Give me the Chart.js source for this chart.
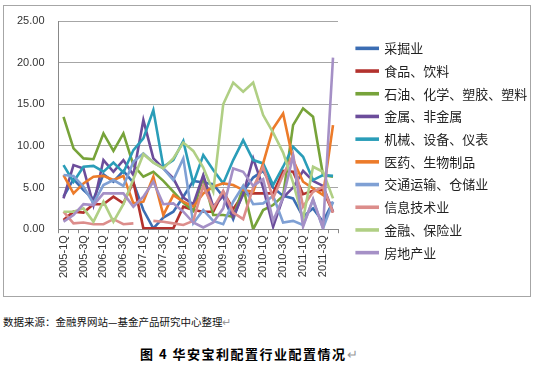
<!DOCTYPE html>
<html>
<head>
<meta charset="utf-8">
<script src="https://cdn.jsdelivr.net/npm/chart.js@4.4.1/dist/chart.umd.min.js"></script>
<style>
  body { margin: 0; background: #fff; width: 535px; height: 368px; position: relative; overflow: hidden; }
  #box { position: absolute; left: 3px; top: 5px; width: 528px; height: 292px; border: 1px solid #a6a6a6; box-sizing: border-box; }
  #box canvas { position: absolute; left: 0; top: 0; }
  .src { position: absolute; left: 3px; top: 314px; font: 10.5px "Noto Sans CJK SC"; color: #111; white-space: nowrap; }
  .ttl { position: absolute; left: 140px; top: 344px; font: bold 13px "Noto Sans CJK SC"; letter-spacing: 1.5px; color: #000; white-space: nowrap; }
  .mk { color: #999; font-weight: normal; }
</style>
</head>
<body>
<div id="box"><canvas id="industry_chart"></canvas></div>
<div class="src">数据来源：金融界网站—基金产品研究中心整理<span class="mk">↵</span></div>
<div class="ttl">图 4 华安宝利配置行业配置情况<span class="mk">↵</span></div>
<script>
var quarters = ['2005-1Q', '2005-2Q', '2005-3Q', '2005-4Q', '2006-1Q', '2006-2Q', '2006-3Q', '2006-4Q',
    '2007-1Q', '2007-2Q', '2007-3Q', '2007-4Q', '2008-1Q', '2008-2Q', '2008-3Q', '2008-4Q',
    '2009-1Q', '2009-2Q', '2009-3Q', '2009-4Q', '2010-1Q', '2010-2Q', '2010-3Q', '2010-4Q',
    '2011-1Q', '2011-2Q', '2011-3Q', '2011-4Q'];

var caijue = [3.9, 6.0, 4.7, 3.6, 6.6, 5.7, 7.0, 5.6, 2.3, 0.1, 1.4, 2.1, 3.9, 5.8, 5.6, 5.4, 3.9, 1.2, 4.5, 6.2, 7.0, 5.0, 4.0, 3.7, 1.5, 2.5, 0.9, 3.3];
var shipin = [1.1, 2.1, 2.0, 3.0, 3.0, 3.9, 3.1, 5.7, 0.1, 0.1, 0.1, 0.1, 2.7, 2.3, 2.1, 2.1, 4.5, 2.4, 4.2, 4.3, 4.3, 4.3, 7.0, 6.9, 4.2, 4.6, 4.7, 2.0];
var shiyou = [13.5, 9.7, 8.5, 8.4, 11.5, 9.4, 11.5, 7.7, 6.3, 6.9, 5.8, 4.5, 3.2, 2.2, 6.3, 1.7, 1.7, 1.5, 5.0, 0.0, 2.3, 2.9, 4.0, 12.5, 14.5, 13.5, 6.5, 6.3];
var jinshu = [3.7, 7.7, 7.3, 2.9, 8.3, 6.9, 8.3, 6.5, 13.1, 8.5, 7.3, 6.1, 3.8, 3.0, 6.5, 2.7, 4.0, 1.5, 4.2, 8.5, 5.0, 0.3, 3.8, 5.0, 7.0, 5.8, 5.2, 2.1];
var jixie = [7.7, 5.7, 7.5, 7.6, 6.9, 8.0, 6.8, 9.5, 10.9, 14.3, 7.5, 8.3, 10.6, 5.5, 8.9, 7.1, 5.5, 8.3, 10.7, 8.3, 7.9, 5.3, 7.5, 9.9, 8.7, 5.9, 6.5, 6.4];
var yiyao = [6.5, 4.3, 5.5, 6.3, 6.4, 5.9, 6.4, 3.1, 3.3, 6.3, 1.7, 4.1, 3.3, 2.7, 4.3, 5.1, 5.5, 5.3, 4.7, 4.5, 7.9, 12.1, 13.9, 8.3, 5.7, 4.9, 4.1, 12.5];
var jiaotong = [6.5, 6.4, 5.1, 3.1, 5.3, 5.9, 5.2, 8.1, 9.1, 8.0, 7.3, 5.9, 8.5, 0.7, 2.3, 1.0, 0.6, 3.3, 5.2, 3.0, 3.1, 4.0, 0.8, 1.0, 0.5, 3.5, 0.1, 3.3];
var xinxi = [2.1, 0.7, 0.8, 0.6, 0.6, 1.2, 0.6, 0.7, null, 1.0, 0.9, 0.7, 0.5, 1.0, 5.2, 2.5, 4.6, 2.0, 1.2, 5.0, 7.5, 3.7, 6.5, 8.9, 2.7, 4.5, 5.1, 2.0];
var jinrong = [2.1, 2.1, 2.5, 0.9, 3.3, 0.9, 3.0, 6.0, 9.0, 8.0, 7.3, 8.5, 10.4, 9.4, 7.4, 4.5, 15.0, 17.6, 16.5, 17.6, 13.7, 11.6, 9.2, 5.6, 1.2, 7.5, 6.9, 3.7];
var fangdichan = [0.9, 1.7, 3.0, 2.9, 4.3, 4.3, 4.3, 2.7, 3.9, 5.7, 3.0, 3.1, 2.1, 0.8, 0.2, 0.8, 2.5, 7.3, 6.9, 5.2, 6.0, 1.0, 3.8, 8.8, 0.3, 3.6, 0.1, 20.6];

var names = ['采掘业', '食品、饮料', '石油、化学、塑胶、塑料', '金属、非金属', '机械、设备、仪表',
    '医药、生物制品', '交通运输、仓储业', '信息技术业', '金融、保险业', '房地产业'];
var series = [caijue, shipin, shiyou, jinshu, jixie, yiyao, jiaotong, xinxi, jinrong, fangdichan];
var lineColors = ['#3b6db3', '#b3322e', '#77a33a', '#6c4d9b', '#2a9db8', '#ec7b2a', '#7fa0d4', '#dc8d8b', '#b0cf84', '#a590c6'];

var datasets = [];
for (var i = 0; i < series.length; i++) {
    datasets.push({
        label: names[i],
        data: series[i],
        borderColor: lineColors[i],
        backgroundColor: lineColors[i],
        borderWidth: 2.6,
        pointRadius: 0,
        tension: 0,
        fill: false,
        order: series.length - i
    });
}

var tickFont = { family: 'Liberation Sans', size: 11 };

var industry_chart = document.getElementById('industry_chart');
var My_industry_chart = new Chart(industry_chart, {
    type: 'line',
    data: {
        labels: quarters,
        datasets: datasets
    },
    options: {
        responsive: true,
        maintainAspectRatio: false,
        animation: false,
        layout: { padding: { left: 10, right: 0, top: 15, bottom: 16 } },
        plugins: {
            tooltip: { enabled: false },
            legend: {
                position: 'right',
                maxWidth: 183,
                labels: {
                    boxWidth: 21,
                    boxHeight: 1,
                    padding: 9.7,
                    color: '#222',
                    font: { family: 'Noto Sans CJK SC', size: 13 },
                    sort: function (a, b) { return a.datasetIndex - b.datasetIndex; }
                }
            }
        },
        scales: {
            x: {
                offset: true,
                grid: { display: true, drawOnChartArea: false, drawTicks: true, tickLength: 4, offset: true, color: '#888' },
                border: { color: '#888' },
                ticks: {
                    autoSkip: false,
                    minRotation: 90,
                    maxRotation: 90,
                    padding: 2,
                    color: '#333',
                    font: tickFont,
                    callback: function (v, i) { return i % 2 === 0 ? quarters[i] : ''; }
                }
            },
            y: {
                min: 0,
                max: 25,
                grid: { color: '#a6a6a6', drawTicks: true, tickLength: 11, tickColor: 'rgba(0,0,0,0)' },
                border: { color: '#888' },
                ticks: {
                    stepSize: 5,
                    padding: 3,
                    color: '#333',
                    font: tickFont,
                    callback: function (v) { return v.toFixed(2); }
                }
            },
            gap: {
                type: 'linear',
                position: 'right',
                display: true,
                grid: { display: false, drawTicks: false },
                border: { display: false },
                ticks: { display: false },
                afterFit: function (s) { s.width = 9; }
            }
        }
    }
});
</script>
</body>
</html>
